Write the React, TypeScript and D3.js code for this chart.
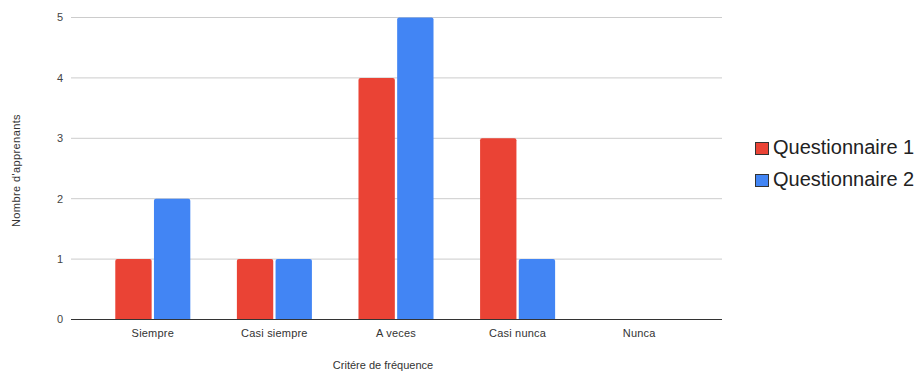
import React from "react";
import * as d3 from "d3";

const categories = ["Siempre", "Casi siempre", "A veces", "Casi nunca", "Nunca"];
const series = ["Questionnaire 1", "Questionnaire 2"];
const q1Values = [1, 1, 4, 3, 0];
const q2Values = [2, 1, 5, 1, 0];
const yTicks = [0, 1, 2, 3, 4, 5];
const colors = ["#EA4335", "#4285F4"];
const xTitle = "Critére de fréquence";
const yTitle = "Nombre d'apprenants";

const W = 914;
const H = 374;
const plotLeft = 71;
const plotRight = 722;
const plotTop = 17.5;
const plotBottom = 319.5;

export default function App() {
  const values = [q1Values, q2Values];
  const x = d3
    .scaleBand<string>()
    .domain(categories)
    .range([92, 700])
    .paddingInner(0.383)
    .paddingOuter(0.1915);
  const xInner = d3
    .scaleBand<string>()
    .domain(series)
    .range([0, x.bandwidth()])
    .paddingInner(0.06);
  const y = d3.scaleLinear().domain([0, 5]).range([plotBottom, plotTop]);

  const barPath = (x0: number, y0: number, w: number, h: number, r: number) => {
    if (h <= 0) return "";
    const rr = Math.min(r, h, w / 2);
    return `M${x0},${y0 + h}V${y0 + rr}Q${x0},${y0} ${x0 + rr},${y0}H${x0 + w - rr}Q${x0 + w},${y0} ${x0 + w},${y0 + rr}V${y0 + h}Z`;
  };

  return (
    <svg
      width={W}
      height={H}
      style={{ position: "absolute", left: 0, top: 0, background: "#fff" }}
      fontFamily="Liberation Sans, Arial, sans-serif"
    >
      <rect x={0} y={0} width={W} height={H} fill="#fff" />
      {yTicks.map((t) => (
        <g key={t}>
          {t !== 0 && (
            <line x1={plotLeft} x2={plotRight} y1={y(t)} y2={y(t)} stroke="#cccccc" strokeWidth={1} />
          )}
          <text x={63} y={y(t)} dy="0.35em" textAnchor="end" fontSize={11} fill="#444">
            {t}
          </text>
        </g>
      ))}
      {categories.map((c, i) => (
        <g key={c}>
          {series.map((s, j) => {
            const v = values[j][i];
            const bx = (x(c) as number) + (xInner(s) as number);
            const by = y(v);
            return (
              <path
                key={s}
                d={barPath(bx, by, xInner.bandwidth(), plotBottom - by, 2)}
                fill={colors[j]}
              />
            );
          })}
          <text
            x={(x(c) as number) + x.bandwidth() / 2}
            y={337}
            textAnchor="middle"
            fontSize={11}
            letterSpacing={0.2}
            fill="#333"
          >
            {c}
          </text>
        </g>
      ))}
      <line x1={plotLeft} x2={plotRight} y1={plotBottom} y2={plotBottom} stroke="#333" strokeWidth={1.2} />
      <text x={383} y={369} textAnchor="middle" fontSize={11} fill="#333">
        {xTitle}
      </text>
      <text
        transform={`translate(20,${(plotTop + plotBottom) / 2 + 2}) rotate(-90)`}
        textAnchor="middle"
        fontSize={11}
        letterSpacing={0.4}
        fill="#333"
      >
        {yTitle}
      </text>
      {series.map((s, j) => (
        <g key={s} transform={`translate(755,${154 + j * 32})`}>
          <rect x={0.5} y={-11.5} width={13} height={12} fill={colors[j]} stroke="#333" strokeWidth={1} />
          <text x={18} y={0} fontSize={20} fill="#222">
            {s}
          </text>
        </g>
      ))}
    </svg>
  );
}
